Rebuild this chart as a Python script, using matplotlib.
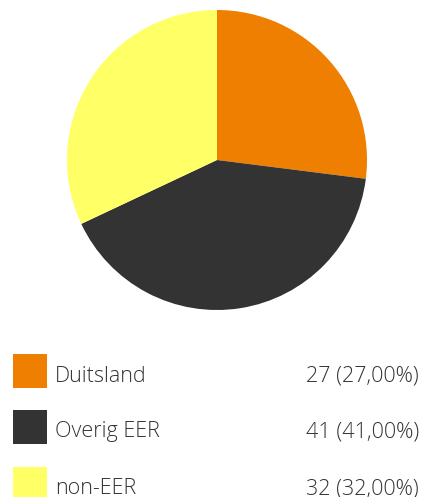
import matplotlib
matplotlib.use('Agg')
import matplotlib.pyplot as plt
from matplotlib.patches import Rectangle

labels = ['Duitsland', 'Overig EER', 'non-EER']
values = [27, 41, 32]
colors = ['#EF7F00', '#333333', '#FFFF66']

W, H = 424, 497
fig = plt.figure(figsize=(W / 100, H / 100), dpi=100)

# pie: center (217, 160) px, radius 150 px
cx, cy, r = 217, 160, 150
ax = fig.add_axes([(cx - r) / W, (H - cy - r) / H, 2 * r / W, 2 * r / H])
ax.pie(values, colors=colors, startangle=90, counterclock=False,
       wedgeprops=dict(linewidth=0))
ax.set_xlim(-1, 1)
ax.set_ylim(-1, 1)
ax.set_aspect('auto')
ax.axis('off')

total = sum(values)
row_y = [371, 427, 484]
for lab, val, col, y in zip(labels, values, colors, row_y):
    fig.patches.append(Rectangle((13 / W, (H - y - 17) / H), 34 / W, 34 / H,
                                 transform=fig.transFigure, facecolor=col,
                                 edgecolor='none'))
    base = (H - y - 10.5) / H
    fig.text(55 / W, base, lab, ha='left', va='baseline',
             fontsize=15.5, family='Open Sans', fontweight='light', color='#333333')
    pct = f'{val / total * 100:.2f}'.replace('.', ',')
    fig.text(419 / W, base, f'{val} ({pct}%)', ha='right', va='baseline',
             fontsize=15.5, family='Open Sans', fontweight='light', color='#333333')

fig.savefig('out.png', dpi=100)
